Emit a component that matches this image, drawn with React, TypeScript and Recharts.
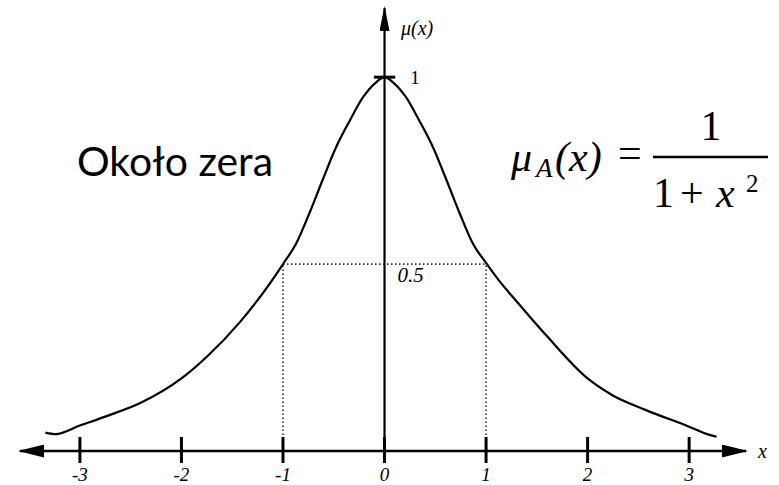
import React from 'react';
import { LineChart, Line, XAxis, YAxis, ReferenceLine, Customized } from 'recharts';

// membership curve "about zero", sampled along x
const curveX = [
  -3.34, -3.24, -3.0, -2.73, -2.4, -2.0, -1.75, -1.42, -1.13, -1.0, -0.87, -0.74, -0.61, -0.475, -0.34, -0.21, -0.08, 0,
  0.08, 0.21, 0.34, 0.475, 0.61, 0.74, 0.87, 1.0, 1.13, 1.27, 1.59, 2.0, 2.24, 2.57, 3.0, 3.2, 3.27,
];
const curveMu = [
  0.049, 0.045, 0.068, 0.094, 0.129, 0.194, 0.252, 0.346, 0.448, 0.5, 0.555, 0.636, 0.725, 0.814, 0.885, 0.947, 0.987, 1.0,
  0.987, 0.947, 0.885, 0.814, 0.725, 0.636, 0.555, 0.503, 0.455, 0.41, 0.31, 0.194, 0.15, 0.11, 0.065, 0.043, 0.038,
];

const xTicks = [-3, -2, -1, 0, 1, 2, 3];
const xTickLabels = ['-3', '-2', '-1', '0', '1', '2', '3'];

// alpha cut at 0.5 spans [-1, 1]
const halfLevel = 0.5;
const halfLeft = -1;
const halfRight = 1;
const peak = 1;

const data = curveX.map((x, i) => ({ x, y: curveMu[i] }));

const serif = 'Liberation Serif';

const XTick = (props: any) => {
  const { x, y, payload } = props;
  const idx = xTicks.indexOf(payload.value);
  return (
    <g>
      <line x1={x} x2={x} y1={y - 14} y2={y + 12} stroke="#000" strokeWidth={3} />
      <text x={x} y={y + 30} textAnchor="middle" fontFamily={serif} fontStyle="italic" fontSize={19} fill="#000">
        {xTickLabels[idx]}
      </text>
    </g>
  );
};

const Overlay = () => (
  <g>
    <defs>
      <marker id="arrowH" markerUnits="userSpaceOnUse" markerWidth={26} markerHeight={13} refX={24} refY={6.5} orient="auto-start-reverse">
        <path d="M0,0 L26,6.5 L0,13 Z" fill="#000" />
      </marker>
      <marker id="arrowV" markerUnits="userSpaceOnUse" markerWidth={25} markerHeight={10} refX={23} refY={5} orient="auto">
        <path d="M0,0 L25,5 L0,10 Z" fill="#000" />
      </marker>
    </defs>

    <text x={77} y={176} fontFamily="Lato" fontSize={41} fill="#000" textLength={196} lengthAdjust="spacingAndGlyphs">
      Około zera
    </text>

    <text x={401} y={35} fontFamily={serif} fontStyle="italic" fontSize={20} fill="#000">μ(x)</text>
    <text x={758} y={458} fontFamily={serif} fontStyle="italic" fontSize={20} fill="#000">x</text>

    {/* formula */}
    <text x={511} y={171} fontFamily={serif} fontStyle="italic" fontSize={42} fill="#000">μ</text>
    <text x={536} y={177} fontFamily={serif} fontStyle="italic" fontSize={27} fill="#000">A</text>
    <text x={555} y={171} fontFamily={serif} fontStyle="italic" fontSize={42} fill="#000">(x)</text>
    <text x={618} y={167} fontFamily={serif} fontSize={42} fill="#000">=</text>
    <line x1={653} x2={768} y1={157} y2={157} stroke="#000" strokeWidth={2.5} />
    <text x={711} y={140} textAnchor="middle" fontFamily={serif} fontSize={42} fill="#000">1</text>
    <text x={653} y={207} fontFamily={serif} fontSize={42} fill="#000">1</text>
    <text x={680} y={207} fontFamily={serif} fontSize={42} fill="#000">+</text>
    <text x={716} y={207} fontFamily={serif} fontStyle="italic" fontSize={42} fill="#000">x</text>
    <text x={746} y={192} fontFamily={serif} fontSize={25} fill="#000">2</text>
  </g>
);

const dotted = { stroke: '#333', strokeWidth: 1.6, strokeDasharray: '1.5 2.5' };

export default function App() {
  return (
    <div style={{ position: 'absolute', left: 0, top: 0, background: '#fff' }}>
      <LineChart width={779} height={485} data={data} margin={{ top: 8, right: 33, bottom: 0, left: 20 }}>
        <XAxis
          type="number"
          dataKey="x"
          domain={[-3.59, 3.56]}
          ticks={xTicks}
          interval={0}
          allowDataOverflow
          height={34}
          tickLine={false}
          tickSize={0}
          tickMargin={0}
          axisLine={{ stroke: '#000', strokeWidth: 2.5, markerStart: 'url(#arrowH)', markerEnd: 'url(#arrowH)' }}
          tick={<XTick />}
        />
        <YAxis type="number" domain={[0, 1.185]} hide allowDataOverflow width={0} />

        <ReferenceLine
          segment={[{ x: 0, y: 0 }, { x: 0, y: 1.185 }]}
          shape={(p: any) => (
            <line x1={p.x1} y1={p.y1} x2={p.x2} y2={p.y2} stroke="#000" strokeWidth={2.2} markerEnd="url(#arrowV)" />
          )}
        />

        <ReferenceLine segment={[{ x: halfLeft, y: 0 }, { x: halfLeft, y: halfLevel }]} {...dotted} />
        <ReferenceLine segment={[{ x: halfRight, y: 0 }, { x: halfRight, y: halfLevel }]} {...dotted} />
        <ReferenceLine
          segment={[{ x: halfLeft, y: halfLevel }, { x: halfRight, y: halfLevel }]}
          {...dotted}
          label={(props: any) => {
            const vb = props.viewBox;
            return (
              <text x={vb.x + vb.width / 2 + 13} y={vb.y + 18} fontFamily={serif} fontStyle="italic" fontSize={21} fill="#000">
                0.5
              </text>
            );
          }}
        />

        <ReferenceLine
          segment={[{ x: -0.105, y: peak }, { x: 0.105, y: peak }]}
          stroke="#000"
          strokeWidth={3}
          label={(props: any) => {
            const vb = props.viewBox;
            return (
              <text x={vb.x + vb.width + 15} y={vb.y + 7} fontFamily={serif} fontSize={19} fill="#000">
                1
              </text>
            );
          }}
        />

        <Line
          type="monotone"
          dataKey="y"
          stroke="#000"
          strokeWidth={2.2}
          dot={false}
          isAnimationActive={false}
        />

        <Customized component={Overlay} />
      </LineChart>
    </div>
  );
}
